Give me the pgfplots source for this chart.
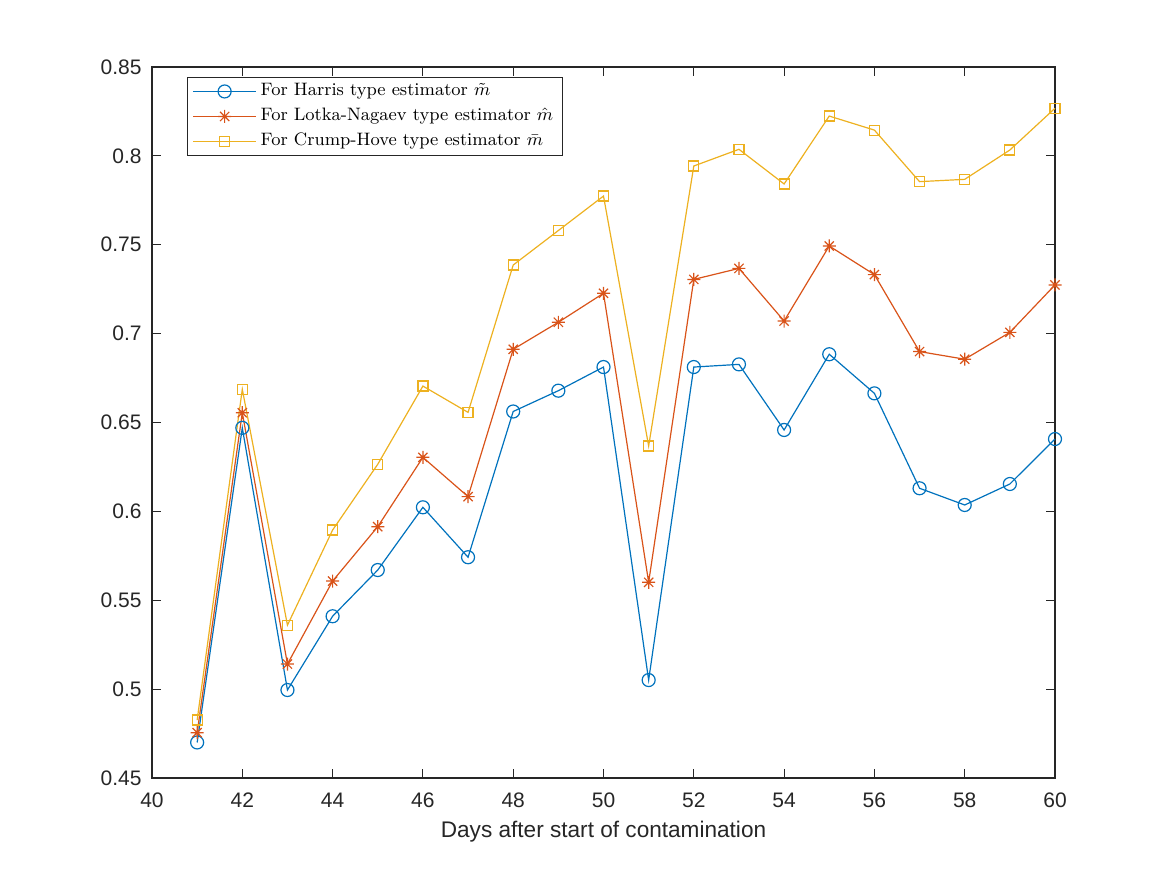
\documentclass[border=0pt]{standalone}
\usepackage{fontspec}
\usepackage{pgfplots}
\pgfplotsset{compat=1.18}
\newfontfamily\helv{Liberation Sans}
\definecolor{mblue}{rgb}{0,0.447,0.741}
\definecolor{mred}{rgb}{0.85,0.325,0.098}
\definecolor{myel}{rgb}{0.929,0.694,0.125}
\definecolor{mgray}{HTML}{262626}
\pgfdeclareplotmark{mstar}{%
  \pgfpathmoveto{\pgfqpoint{0pt}{\pgfplotmarksize}}\pgfpathlineto{\pgfqpoint{0pt}{-\pgfplotmarksize}}%
  \pgfpathmoveto{\pgfqpoint{\pgfplotmarksize}{0pt}}\pgfpathlineto{\pgfqpoint{-\pgfplotmarksize}{0pt}}%
  \pgfpathmoveto{\pgfqpoint{0.707\pgfplotmarksize}{0.707\pgfplotmarksize}}\pgfpathlineto{\pgfqpoint{-0.707\pgfplotmarksize}{-0.707\pgfplotmarksize}}%
  \pgfpathmoveto{\pgfqpoint{-0.707\pgfplotmarksize}{0.707\pgfplotmarksize}}\pgfpathlineto{\pgfqpoint{0.707\pgfplotmarksize}{-0.707\pgfplotmarksize}}%
  \pgfusepathqstroke}
\begin{document}
\begin{tikzpicture}
\path[use as bounding box] (-76pt,-48.5pt) rectangle (507.5pt,389pt);
\begin{axis}[
  at={(0,0)}, anchor=south west,
  scale only axis, width=451.5pt, height=355.5pt,
  xmin=40, xmax=60, ymin=0.45, ymax=0.85,
  xtick={40,42,...,60},
  xticklabels={40,42,44,46,48,50,52,54,56,58,60},
  ytick={0.45,0.5,0.55,0.6,0.65,0.7,0.75,0.8,0.85},
  yticklabels={0.45,0.5,0.55,0.6,0.65,0.7,0.75,0.8,0.85},
  tick pos=both, tick align=inside, major tick length=4.5pt,
  axis line style={mgray, line width=0.6pt},
  tick style={mgray, line width=0.5pt},
  ticklabel style={font=\helv\fontsize{10.5}{12}\selectfont, text=mgray},
  xticklabel style={yshift=-4pt},
  yticklabel style={xshift=-1.7pt},
  xlabel={Days after start of contamination},
  xlabel style={font=\helv\fontsize{11.3}{13}\selectfont, text=mgray, at={(axis description cs:0.5,0)}, anchor=north, yshift=-18pt},
  clip=false,
  legend cell align=left,
  legend style={at={(rel axis cs:0.0388,0.986)}, anchor=north west, draw=mgray, line width=0.5pt,
    font=\fontsize{9}{10.5}\selectfont, inner xsep=2.5pt, inner ysep=0.75pt, row sep=0pt,
    nodes={text height=7pt, text depth=2.5pt, inner ysep=1.5pt, inner xsep=2pt}},
  legend image code/.code={\draw[mark repeat=2,mark phase=2] plot coordinates {(0pt,0pt)(15.75pt,0pt)(31.5pt,0pt)};},
  every axis plot/.append style={line width=0.6pt},
]
\addplot[mblue, mark=o, mark size=3.25pt, mark options={line width=0.6pt}] coordinates {
(41,0.470)(42,0.647)(43,0.4995)(44,0.541)(45,0.567)(46,0.6023)(47,0.5742)(48,0.6562)(49,0.6679)(50,0.6812)
(51,0.5051)(52,0.6812)(53,0.6827)(54,0.6458)(55,0.6884)(56,0.6664)(57,0.613)(58,0.6036)(59,0.6154)(60,0.6407)};
\addlegendentry{For Harris type estimator $\tilde{m}$}
\addplot[mred, mark=mstar, mark size=3.25pt, mark options={line width=0.6pt}] coordinates {
(41,0.4755)(42,0.6555)(43,0.5141)(44,0.5608)(45,0.5914)(46,0.6304)(47,0.6083)(48,0.6912)(49,0.7064)(50,0.7227)
(51,0.5601)(52,0.7305)(53,0.7367)(54,0.7071)(55,0.7493)(56,0.7332)(57,0.6899)(58,0.6856)(59,0.7007)(60,0.7274)};
\addlegendentry{For Lotka-Nagaev type estimator $\hat{m}$}
\addplot[myel, mark=square, mark size=2.5pt, mark options={line width=0.6pt}] coordinates {
(41,0.4826)(42,0.6687)(43,0.536)(44,0.5895)(45,0.6265)(46,0.6705)(47,0.6557)(48,0.7386)(49,0.758)(50,0.7774)
(51,0.6368)(52,0.7943)(53,0.8037)(54,0.7842)(55,0.8224)(56,0.8145)(57,0.7855)(58,0.7868)(59,0.8033)(60,0.8268)};
\addlegendentry{For Crump-Hove type estimator $\bar{m}$}
\end{axis}
\end{tikzpicture}
\end{document}
